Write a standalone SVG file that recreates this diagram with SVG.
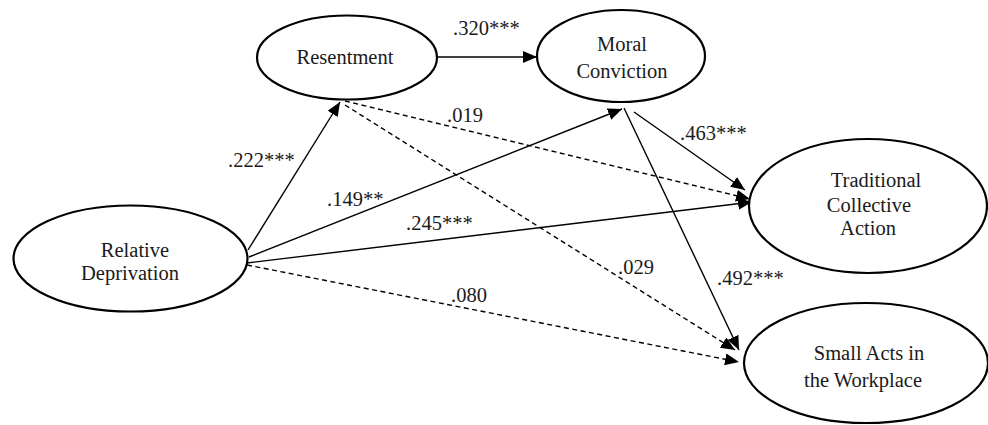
<svg xmlns="http://www.w3.org/2000/svg" width="988" height="425" viewBox="0 0 988 425">
<style>
.node{fill:#fff;stroke:#000;stroke-width:2.2}
.t{font-family:"Liberation Serif","Times New Roman",serif;font-size:20.5px;fill:#1a1a1a;text-anchor:middle}
.lbl{font-family:"Liberation Serif","Times New Roman",serif;font-size:20.5px;fill:#1a1a1a}
.c{fill:none;stroke:#000;stroke-width:1.4;marker-end:url(#ah)}
.d{stroke-dasharray:5 3.5}
</style>
<defs>
<marker id="ah" markerUnits="userSpaceOnUse" markerWidth="14" markerHeight="12" viewBox="0 0 14 12" refX="14" refY="6" orient="auto">
<path d="M0,0 L14,6 L0,12 Z" fill="#000"/>
</marker>
</defs>
<rect width="988" height="425" fill="#fff"/>
<g id="connectors">
<line class="c" x1="248" y1="250" x2="340" y2="102"/>
<line class="c" x1="438" y1="57" x2="537" y2="57"/>
<line class="c" x1="249" y1="257" x2="622" y2="109"/>
<line class="c" x1="247" y1="263" x2="752" y2="202"/>
<line class="c d" x1="247" y1="265" x2="739" y2="362"/>
<line class="c d" x1="345" y1="101" x2="750" y2="199"/>
<line class="c d" x1="345" y1="105" x2="735" y2="350"/>
<line class="c" x1="634" y1="112" x2="745" y2="190"/>
<line class="c" x1="624" y1="108" x2="739" y2="350"/>
</g>
<g id="labels">
<text class="lbl" x="228" y="167">.222***</text>
<text class="lbl" x="453" y="35">.320***</text>
<text class="lbl" x="447" y="122">.019</text>
<text class="lbl" x="327" y="206">.149**</text>
<text class="lbl" x="406" y="230">.245***</text>
<text class="lbl" x="618" y="274">.029</text>
<text class="lbl" x="451" y="302">.080</text>
<text class="lbl" x="717" y="285">.492***</text>
<text class="lbl" x="680" y="140">.463***</text>
</g>
<g id="resentment">
<ellipse class="node" cx="347" cy="57.5" rx="90" ry="42"/>
<text class="t" x="345" y="64">Resentment</text>
</g>
<g id="moral-conviction">
<ellipse class="node" cx="621" cy="56" rx="84" ry="46"/>
<text class="t" x="622" y="51">Moral</text>
<text class="t" x="622" y="78">Conviction</text>
</g>
<g id="relative-deprivation">
<ellipse class="node" cx="130.5" cy="258.5" rx="117" ry="53"/>
<text class="t" x="135" y="257">Relative</text>
<text class="t" x="130" y="280">Deprivation</text>
</g>
<g id="traditional-collective-action">
<ellipse class="node" cx="868" cy="206" rx="119" ry="67"/>
<text class="t" x="876" y="187">Traditional</text>
<text class="t" x="869" y="212">Collective</text>
<text class="t" x="868" y="235">Action</text>
</g>
<g id="small-acts">
<ellipse class="node" cx="866" cy="363" rx="122" ry="60"/>
<text class="t" x="869" y="360">Small Acts in</text>
<text class="t" x="863" y="387">the Workplace</text>
</g>
</svg>
